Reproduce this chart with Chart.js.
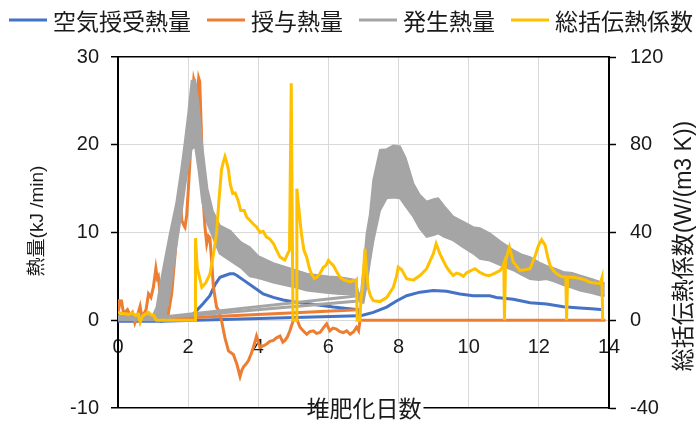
<!DOCTYPE html>
<html>
<head>
<meta charset="utf-8">
<script src="https://cdn.jsdelivr.net/npm/chart.js@4.4.1/dist/chart.umd.min.js"></script>
<style>
  html, body { margin: 0; background: #fff; overflow: hidden; }
  #wrap { width: 696px; height: 434px; }
</style>
</head>
<body>
<div id="wrap"><canvas id="chart"></canvas></div>
<script>
// 堆肥化試験 — 熱収支と総括伝熱係数 (Chart.js 4)

// --- 空気授受熱量 (kJ/min) ---
const airDays = [0, 0.3, 0.6, 0.9, 1.2, 1.6, 2.0, 2.15, 2.24, 2.43, 2.62, 2.77, 2.91, 3.05, 3.19, 3.3, 3.39, 3.57, 3.86, 4.14, 4.43, 4.71, 5.0, 5.38, 5.76, 6.14, 6.52, 6.84, 6.88, 7.0, 7.28, 7.66, 7.94, 8.23, 8.61, 8.99, 9.37, 9.75, 10.13, 10.6, 10.79, 11.27, 11.75, 12.22, 12.7, 13.17, 13.5, 13.85];
const airHeat = [-0.1, -0.1, -0.1, -0.1, -0.1, 0.2, 0.4, 0.7, 1.1, 1.9, 2.8, 4.1, 4.9, 5.1, 5.3, 5.3, 5.1, 4.6, 3.8, 3.0, 2.6, 2.3, 2.1, 1.9, 1.7, 1.5, 1.35, 1.2, 0.5, 0.6, 0.9, 1.5, 2.2, 2.8, 3.2, 3.4, 3.3, 3.0, 2.8, 2.8, 2.6, 2.4, 2.0, 1.85, 1.55, 1.4, 1.3, 1.2];

// --- 授与熱量 (kJ/min) ---
const supplyDays = [0, 0.03, 0.06, 0.1, 0.15, 0.2, 0.27, 0.34, 0.41, 0.48, 0.55, 0.63, 0.68, 0.72, 0.8, 0.87, 0.94, 1.01, 1.08, 1.12, 1.15, 1.2, 1.24, 1.3, 1.34, 1.43, 1.53, 1.63, 1.72, 1.78, 1.82, 1.88, 1.91, 1.96, 2.01, 2.08, 2.12, 2.16, 2.22, 2.26, 2.3, 2.33, 2.39, 2.43, 2.48, 2.53, 2.58, 2.62, 2.67, 2.72, 2.81, 2.86, 2.95, 3.05, 3.15, 3.29, 3.39, 3.48, 3.53, 3.58, 3.65, 3.72, 3.8, 3.86, 3.95, 4.05, 4.15, 4.24, 4.33, 4.43, 4.52, 4.62, 4.7, 4.76, 4.83, 4.9, 5.0, 5.09, 5.19, 5.28, 5.38, 5.47, 5.57, 5.66, 5.76, 5.85, 5.95, 6.04, 6.13, 6.23, 6.33, 6.43, 6.52, 6.62, 6.72, 6.8, 6.86, 6.9, 13.9];
const supplyHeat = [2.4, 1.5, 2.2, 2.2, 1.0, 0.9, 1.2, 0.6, 0.9, -0.3, 0.5, 1.6, 0.4, 0.6, 1.2, 3.0, 2.6, 3.8, 5.9, 4.8, 5.0, 3.0, 0.9, 1.8, 2.0, 0.6, 3.0, 7.6, 12.5, 13.5, 11.4, 10.8, 10.6, 12.0, 15.2, 20.2, 25.2, 27.4, 26.4, 25.5, 27.6, 27.2, 20.0, 13.7, 10.6, 8.7, 9.6, 9.4, 6.8, 3.8, 1.5, 1.2, 0, -2.0, -3.5, -3.9, -5.0, -6.4, -5.7, -5.3, -5.0, -4.6, -3.8, -3.1, -1.8, -3.1, -2.9, -2.7, -2.4, -2.3, -2.0, -1.8, -2.5, -2.3, -1.9, -1.2, 0, 0.2, -0.8, -1.2, -1.6, -1.3, -1.2, -1.5, -1.4, -0.9, -0.4, -1.2, -0.9, -1.0, -1.3, -1.4, -1.2, -1.6, -1.3, -0.8, -1.2, 0, 0];

// --- 発生熱量 (kJ/min): 振動幅の上端・下端 ---
const genDays = [0, 0.5, 1.0, 1.1, 1.2, 1.34, 1.48, 1.66, 1.8, 1.91, 2.0, 2.1, 2.2, 2.3, 2.4, 2.55, 2.7, 2.9, 3.05, 3.2, 3.5, 3.76, 4.0, 4.43, 5.0, 5.38, 6.0, 6.33, 6.77, 6.85, 6.92, 7.0, 7.09, 7.18, 7.28, 7.47, 7.66, 7.85, 8.04, 8.2, 8.42, 8.6, 8.8, 9.0, 9.13, 9.3, 9.56, 9.85, 10.13, 10.32, 10.6, 10.9, 11.27, 11.5, 11.75, 12.0, 12.22, 12.45, 12.7, 12.95, 13.17, 13.5, 13.79, 13.88];
const genHigh = [0.5, 0.5, 0.6, 1.5, 4.0, 7.0, 9.9, 13.3, 17.1, 20.5, 23.5, 27.3, 27.4, 24.5, 20.0, 15.0, 12.5, 10.8, 10.5, 10.2, 8.9, 8.3, 7.3, 6.5, 5.8, 5.3, 5.0, 4.9, 4.6, 3.2, 2.8, 6.0, 9.9, 12.0, 16.0, 19.4, 19.5, 19.9, 19.8, 18.5, 15.6, 14.3, 13.5, 13.8, 13.9, 13.0, 11.8, 11.2, 10.6, 10.5, 9.9, 9.0, 8.0, 7.5, 7.2, 6.6, 6.2, 5.9, 5.5, 5.4, 5.1, 4.7, 4.3, 4.2];
const genLow = [0, 0, 0, 0, 0.1, 0.2, 3.0, 8.3, 11.9, 15.2, 17.5, 19.5, 19.8, 17.0, 13.5, 11.0, 9.5, 7.6, 7.2, 6.8, 6.0, 5.0, 4.8, 4.3, 3.8, 3.4, 3.1, 3.0, 3.0, 2.4, 2.0, 2.0, 4.0, 6.5, 9.0, 12.5, 13.9, 14.0, 13.9, 13.0, 11.8, 10.5, 9.5, 9.7, 9.9, 9.5, 9.1, 8.3, 7.6, 7.0, 6.8, 6.3, 5.7, 5.2, 4.7, 4.6, 4.7, 4.4, 4.0, 3.7, 3.4, 3.1, 2.8, 2.8];

// 欠測区間をまたいで結ばれた直線
const gapDays = [1.1, 6.85];
const gapGenA = [0.3, 2.8];
const gapGenB = [0.2, 2.2];
const gapSupply = [0.1, 1.2];
const gapAirDays = [1.2, 6.85];
const gapAir = [-0.1, 0.5];

// --- 総括伝熱係数 W/(m3 K) (右軸) ---
const coefDays = [0, 0.1, 0.2, 0.3, 0.4, 0.5, 0.57, 0.63, 0.7, 0.8, 0.87, 0.95, 1.02, 1.08, 1.1, 2.2, 2.21, 2.26, 2.39, 2.5, 2.62, 2.72, 2.81, 2.88, 2.95, 3.0, 3.05, 3.1, 3.15, 3.2, 3.27, 3.34, 3.42, 3.5, 3.6, 3.67, 3.76, 3.85, 3.95, 4.05, 4.14, 4.23, 4.33, 4.43, 4.52, 4.62, 4.7, 4.76, 4.83, 4.89, 4.94, 4.97, 4.99, 5.08, 5.1, 5.13, 5.23, 5.3, 5.38, 5.45, 5.52, 5.6, 5.66, 5.75, 5.85, 5.93, 6.0, 6.07, 6.14, 6.24, 6.33, 6.43, 6.52, 6.62, 6.7, 6.77, 6.8, 6.82, 6.9, 6.93, 6.97, 7.04, 7.08, 7.13, 7.2, 7.28, 7.47, 7.66, 7.85, 7.94, 7.99, 8.09, 8.23, 8.42, 8.61, 8.8, 8.99, 9.07, 9.18, 9.28, 9.37, 9.47, 9.56, 9.65, 9.75, 9.85, 9.94, 10.05, 10.18, 10.3, 10.42, 10.5, 10.6, 10.75, 10.89, 10.96, 11.0, 11.02, 11.05, 11.16, 11.27, 11.46, 11.6, 11.75, 11.9, 11.99, 12.08, 12.18, 12.25, 12.32, 12.42, 12.51, 12.63, 12.77, 12.79, 12.82, 12.99, 13.17, 13.3, 13.46, 13.6, 13.75, 13.8, 13.82];
const coefValue = [3.6, 3.2, 3.0, 2.6, 3.4, 2.2, 2.8, -1.0, 2.0, 3.0, 3.6, 2.4, 2.2, 0.4, 0, 0, 37.4, 24, 15, 17, 21, 30, 39.5, 55, 68.5, 72, 74.6, 72, 68.5, 62, 57.8, 58, 54.8, 50, 50, 47, 45.6, 44, 42.5, 40, 40.5, 38, 37, 35, 32, 28.8, 28, 27.5, 30, 32, 108, 40, 0, 0, 60, 55, 39.5, 32, 28.8, 24, 21, 19, 19.5, 21, 24, 25, 27.3, 26, 25, 22, 19.6, 18.5, 18, 17.5, 18, 18, 18.5, 0, 0, 10.4, 14, 32.6, 24, 15, 11, 8.9, 8.5, 10.3, 15, 20, 24.2, 23, 18.9, 18.3, 20.4, 23.5, 30.3, 34.9, 30.3, 27, 24.2, 22, 20.4, 21.5, 21, 20, 21.7, 22.5, 23.5, 22, 21, 20.5, 20.4, 21.5, 22.7, 24, 25.8, 0, 27, 33.4, 26.6, 22.7, 23, 23.5, 29.6, 34.1, 36.7, 34.1, 29, 25, 22.5, 21.2, 20, 19.6, 0, 19.6, 19.6, 19, 18.5, 17.3, 17, 16.7, 19.4, 0];

const dayTicks = [0, 2, 4, 6, 8, 10, 12, 14];

const BLUE = '#4472C4', ORANGE = '#ED7D31', GRAY = '#A5A5A5', GOLD = '#FFC000';
const FONT = '"Liberation Sans", "Noto Sans CJK JP", sans-serif';
const CJK = '"Noto Sans CJK JP", sans-serif';

const xy = (xs, ys) => xs.map((x, i) => ({ x, y: ys[i] }));

const line = (label, xs, ys, color, extra) => Object.assign({
  label, data: xy(xs, ys), borderColor: color, backgroundColor: color,
  borderWidth: 3, pointRadius: 0, tension: 0, fill: false, yAxisID: 'y'
}, extra || {});

const datasets = [
  line('空気授受熱量', airDays, airHeat, BLUE, { order: 4, legend: true }),
  line('授与熱量', supplyDays, supplyHeat, ORANGE, { order: 3, legend: true }),
  line('発生熱量', genDays, genHigh, GRAY, { order: 2, legend: true, fill: '+1', backgroundColor: GRAY, borderWidth: 2 }),
  line('発生熱量(下端)', genDays, genLow, GRAY, { order: 2, borderWidth: 2 }),
  line('gapGenA', gapDays, gapGenA, GRAY, { order: 2 }),
  line('gapGenB', gapDays, gapGenB, GRAY, { order: 2 }),
  line('gapSupply', gapDays, gapSupply, ORANGE, { order: 3 }),
  line('gapAir', gapAirDays, gapAir, BLUE, { order: 4 }),
  line('総括伝熱係数', coefDays, coefValue, GOLD, { order: 0, legend: true, yAxisID: 'y2' })
];

// legend, axis titles drawn directly on the canvas
const decorations = {
  id: 'decorations',
  afterDraw(chart) {
    const ctx = chart.ctx;
    ctx.save();
    ctx.fillStyle = '#1a1a1a';
    ctx.textBaseline = 'middle';

    // legend row
    ctx.font = '23px ' + CJK;
    let x = 9;
    const ly = 20;
    chart.data.datasets.filter(d => d.legend).forEach(d => {
      ctx.strokeStyle = d.borderColor;
      ctx.lineWidth = 3;
      ctx.beginPath();
      ctx.moveTo(x, ly);
      ctx.lineTo(x + 38, ly);
      ctx.stroke();
      x += 44;
      ctx.textAlign = 'left';
      ctx.fillText(d.label, x, ly + 1);
      x += ctx.measureText(d.label).width + 16;
    });

    // x title
    ctx.font = '23px ' + FONT;
    ctx.textAlign = 'center';
    const tw = ctx.measureText('堆肥化日数').width;
    ctx.fillStyle = '#fff';
    ctx.fillRect(364 - tw / 2 + 22, 404, tw - 20, 17);
    ctx.fillStyle = '#1a1a1a';
    ctx.fillText('堆肥化日数', 364, 411);

    // left title
    ctx.font = '19px ' + FONT;
    ctx.translate(38, 221);
    ctx.rotate(-Math.PI / 2);
    ctx.fillText('熱量(kJ /min)', 0, 0);
    ctx.setTransform(1, 0, 0, 1, 0, 0);

    // right title
    ctx.font = '23px ' + FONT;
    ctx.translate(685, 246);
    ctx.rotate(-Math.PI / 2);
    ctx.fillText('総括伝熱係数(W/(m3 K))', 0, 0);
    ctx.restore();
  }
};

new Chart(document.getElementById('chart'), {
  type: 'line',
  data: { datasets },
  plugins: [decorations],
  options: {
    responsive: true, maintainAspectRatio: false, animation: false,
    layout: { padding: { top: 57, left: 0, right: 0, bottom: 0 } },
    plugins: { legend: { display: false }, tooltip: { enabled: false } },
    scales: {
      x: {
        type: 'linear', position: { y: 0 }, min: 0, max: 14,
        afterFit: s => { s.height = 3; },
        afterBuildTicks: s => { s.ticks = dayTicks.map(v => ({ value: v })); },
        grid: { color: '#d9d9d9', lineWidth: 1, drawTicks: false },
        border: { display: false },
        ticks: { color: '#1a1a1a', font: { family: FONT, size: 20 }, padding: 15, maxRotation: 0 }
      },
      y: {
        position: 'left', min: -10, max: 30,
        afterFit: s => { s.width = 118; },
        ticks: { stepSize: 10, color: '#1a1a1a', font: { family: FONT, size: 20 }, padding: 12 },
        grid: {
          color: c => (c.tick.value === 30 || c.tick.value === -10) ? '#000' : '#d9d9d9',
          lineWidth: c => (c.tick.value === 30 || c.tick.value === -10) ? 1.5 : 1,
          tickColor: '#000', tickLength: 7, tickWidth: 1.5
        },
        border: { color: '#000', width: 2 }
      },
      y2: {
        position: 'right', min: -40, max: 120,
        afterFit: s => { s.width = 87; },
        ticks: { stepSize: 40, color: '#1a1a1a', font: { family: FONT, size: 20 }, padding: 14 },
        grid: { drawOnChartArea: false, tickColor: '#000', tickLength: 7, tickWidth: 1.5 },
        border: { color: '#000', width: 2 }
      }
    }
  }
});
</script>
</body>
</html>
